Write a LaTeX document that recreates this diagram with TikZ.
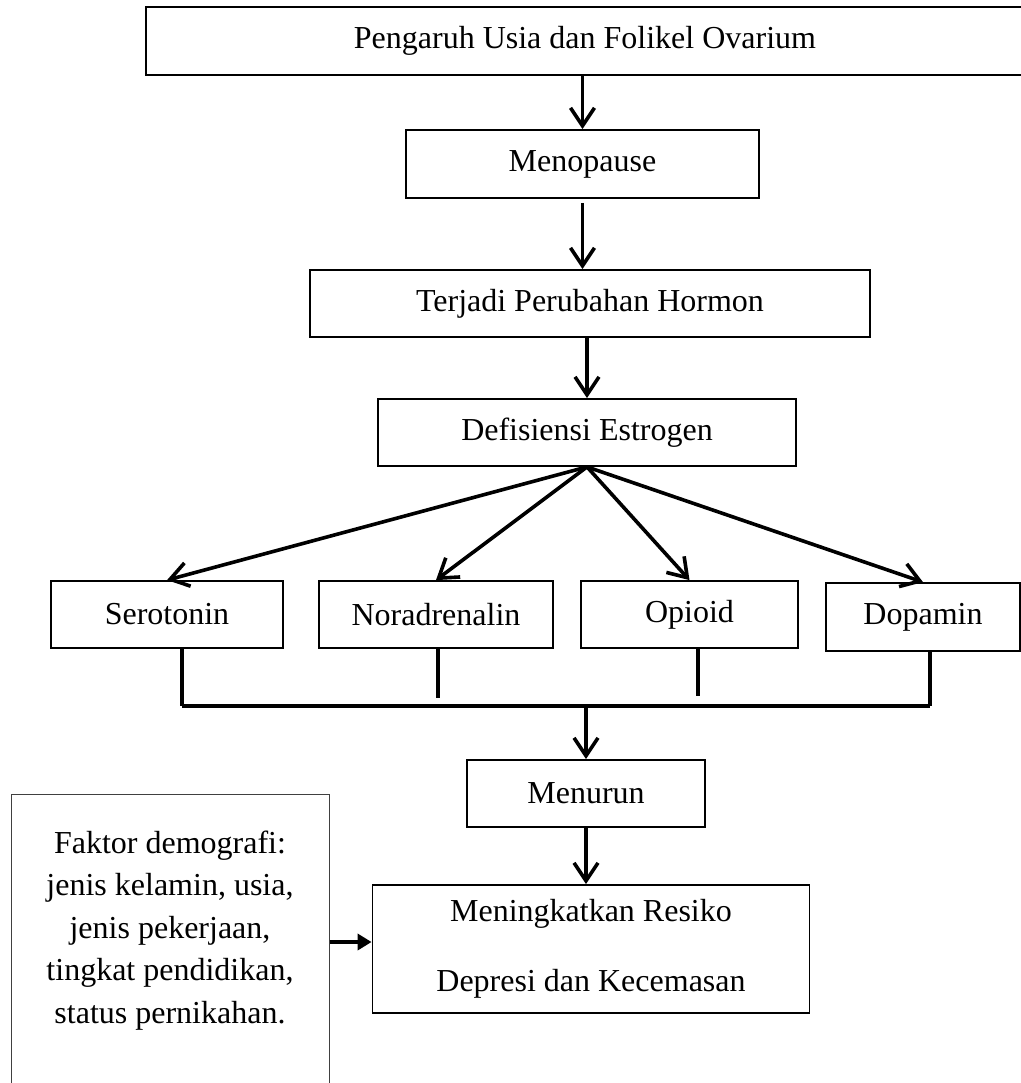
\documentclass[tikz,border=0pt]{standalone}
\usepackage{fontspec}
\setmainfont{Liberation Serif}
\usetikzlibrary{arrows.meta, positioning}

\begin{document}
\begin{tikzpicture}[
    x=0.5pt, y=-0.5pt,
    >={Straight Barb[length=9pt, width=12pt]},
    every node/.style={font=\fontsize{16}{19.2}\selectfont},
    box/.style={draw, line width=0.9pt, minimum height=33.5pt, align=center},
    arr/.style={->, line width=1.8pt},
    stub/.style={line width=1.8pt},
    busline/.style={line width=2.4pt},
    demo/.style={draw=black!75, line width=0.5pt, align=center, font=\fontsize{16}{21.25}\selectfont}
]
    \useasboundingbox (0,0) rectangle (1021,1083);
    \clip (0,0) rectangle (1021,1083);

    % main chain
    \node[box, minimum width=439pt, minimum height=34pt] (usia) at (585,41) {Pengaruh Usia dan Folikel Ovarium};
    \node[box, minimum width=176.5pt, minimum height=34pt] (meno) at (582.5,164) {Menopause};
    \node[box, minimum width=280pt] (hormon) at (590,303.5) {Terjadi Perubahan Hormon};
    \node[box, minimum width=209pt] (estrogen) at (587,432.5) {Defisiensi Estrogen};

    % neurotransmitters
    \node[box, minimum width=116pt] (sero) at (167,614.5) {Serotonin};
    \node[box, minimum width=117pt] (nora) at (436,614.5) {Noradrenalin};
    \node[box, minimum width=108.5pt] (opi) at (689.5,614.5) {Opioid};
    \node[box, minimum width=97pt, minimum height=34pt] (dopa) at (923,617) {Dopamin};

    \node[box, minimum width=119pt] (turun) at (586,793.5) {Menurun};
    \node[box, minimum width=218.5pt, minimum height=64pt] (resiko) at (591,949)
        {Meningkatkan Resiko\\[16pt]Depresi dan Kecemasan};
    \node[demo, minimum width=159pt, minimum height=154pt] (faktor) at (170,948)
        {Faktor demografi:\\ jenis kelamin, usia,\\ jenis pekerjaan,\\ tingkat pendidikan,\\ status pernikahan.\\ \mbox{}};

    \draw[arr] (meno.north |- usia.south) -- (meno.north);
    \draw[arr] ([yshift=-2pt]meno.south) -- (meno.south |- hormon.north);
    \draw[arr] (estrogen.north |- hormon.south) -- (estrogen.north);

    \foreach \n in {sero, nora, opi, dopa}
        \draw[arr] (estrogen.south) -- (\n.north);

    % collecting line
    \coordinate (bus) at (586,706);
    \draw[stub] ([xshift=7.5pt]sero.south) -- ([xshift=7.5pt]sero.south |- bus);
    \draw[stub] ([xshift=1pt]nora.south) -- ([xshift=1pt, yshift=4pt]nora.south |- bus);
    \draw[stub] ([xshift=4.25pt]opi.south) -- ([xshift=4.25pt, yshift=5pt]opi.south |- bus);
    \draw[stub] ([xshift=3.5pt]dopa.south) -- ([xshift=3.5pt]dopa.south |- bus);
    \draw[busline] ([xshift=7.5pt]sero.south |- bus) -- ([xshift=3.5pt]dopa.south |- bus);
    \draw[arr] (bus) -- (bus |- turun.north);
    \draw[arr] (turun.south) -- (turun.south |- resiko.north);

    \coordinate (fin) at ([yshift=3.5pt]resiko.west);
    \draw[line width=2.2pt, -{Triangle[length=7pt, width=8pt]}] (fin -| faktor.east) -- (fin);
\end{tikzpicture}
\end{document}
